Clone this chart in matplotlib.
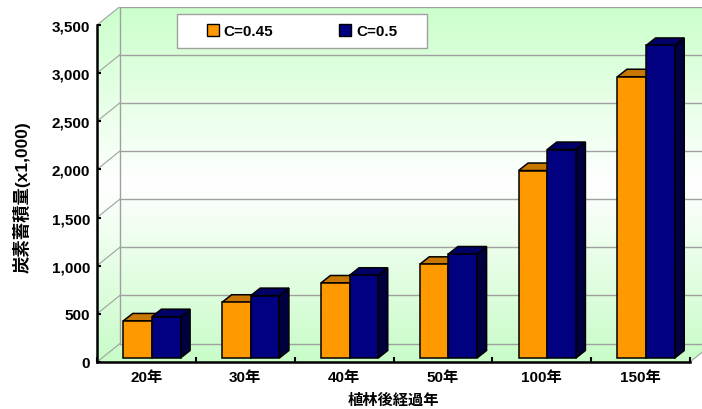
import numpy as np
import matplotlib
matplotlib.use("Agg")
import matplotlib.pyplot as plt
from matplotlib.patches import Polygon, Rectangle, Patch
from matplotlib.colors import LinearSegmentedColormap
from matplotlib.ticker import StrMethodFormatter

plt.rcParams['font.family'] = ['Liberation Sans', 'Noto Sans CJK JP']
plt.rcParams['font.weight'] = 'bold'

# データ
categories = ["20年", "30年", "40年", "50年", "100年", "150年"]
series_names = ["C=0.45", "C=0.5"]
c045 = [385, 579, 779, 973, 1947, 2921]
c050 = [429, 648, 859, 1080, 2165, 3246]
yticks = [0, 500, 1000, 1500, 2000, 2500, 3000, 3500]

front_colors = ["#ff9900", "#000080"]
top_colors = ["#c87800", "#000068"]
side_colors = ["#7a4a00", "#000040"]

W, H = 702, 410
fig = plt.figure(figsize=(W / 100, H / 100), dpi=100)

# pixel layout of the front plane and the 3D depth
x_left, x_right = 97, 690
y_bottom, y_top = 363, 26
wall_dx, wall_dy = 23, 18.5
ncat = len(categories)
ymax = yticks[-1]
px_x = ncat / (x_right - x_left)
px_y = ymax / (y_bottom - y_top)
wx, wy = wall_dx * px_x, wall_dy * px_y

ax_w = (x_right - x_left) + wall_dx
ax_h = (y_bottom - y_top) + wall_dy
ax = fig.add_axes([x_left / W, (H - y_bottom) / H, ax_w / W, ax_h / H])
ax.set_xlim(0, ncat + wx)
ax.set_ylim(0, ymax + wy)
ax.patch.set_visible(False)

# 背景（側壁・奥壁・床）のグラデーション
wall = Polygon([(0, 0), (ncat, 0), (ncat + wx, wy), (ncat + wx, ymax + wy),
                (wx, ymax + wy), (0, ymax)], closed=True,
               facecolor="none", edgecolor="none")
ax.add_patch(wall)
cmap = LinearSegmentedColormap.from_list("wall", ["#c8fcc8", "#ffffff", "#cbffcb"])
grad = np.linspace(0, 1, 256).reshape(-1, 1)
im = ax.imshow(grad, cmap=cmap, extent=(0, ncat + wx, 0, ymax + wy),
               origin="lower", aspect="auto", zorder=0)
im.set_clip_path(wall)
ax.set_xlim(0, ncat + wx)
ax.set_ylim(0, ymax + wy)

grid_c = "#a0a0a0"
for v in yticks:
    ax.plot([wx, ncat + wx], [v + wy, v + wy], color=grid_c, lw=1, zorder=1)
    ax.plot([0, wx], [v, v + wy], color=grid_c, lw=0.8, zorder=1)
ax.plot([wx, wx], [wy, ymax + wy], color=grid_c, lw=1, zorder=1)
ax.plot([ncat, ncat + wx], [0, wy], color=grid_c, lw=0.8, zorder=1)

# 3D風の棒
bw = 0.29
bx, by = 5.5 * px_x, 4 * px_y
sx, sy = 9.5 * px_x, 7.5 * px_y
for i in range(ncat):
    for j, vals in enumerate([c045, c050]):
        h = vals[i]
        x0 = i + 0.5 - bw + j * bw + bx
        x1 = x0 + bw
        z = 2 + i * 2 + j
        ax.add_patch(Polygon([(x1, by), (x1 + sx, by + sy), (x1 + sx, by + h + sy), (x1, by + h)],
                             closed=True, facecolor=side_colors[j], edgecolor="black",
                             lw=1.1, zorder=z))
        ax.add_patch(Polygon([(x0, by + h), (x1, by + h), (x1 + sx, by + h + sy), (x0 + sx, by + h + sy)],
                             closed=True, facecolor=top_colors[j], edgecolor="black",
                             lw=1.1, zorder=z))
        ax.bar(x0, h, width=bw, bottom=by, align="edge", color=front_colors[j],
               edgecolor="black", lw=1.1, zorder=z + 0.5)

# 軸
for s in ["top", "right"]:
    ax.spines[s].set_visible(False)
ax.spines["left"].set_bounds(0, ymax)
ax.spines["bottom"].set_bounds(0, ncat)
ax.spines["left"].set_linewidth(1.8)
ax.spines["bottom"].set_linewidth(1.8)
ax.spines["left"].set_zorder(30)
ax.spines["bottom"].set_zorder(30)

ax.set_yticks(yticks)
ax.yaxis.set_major_formatter(StrMethodFormatter("{x:,.0f}"))
ax.tick_params(axis="y", direction="in", length=3, width=1.5, pad=5, labelsize=11)

ax.set_xticks(np.arange(ncat) + 0.5)
ax.set_xticklabels(categories)
ax.set_xticks(np.arange(ncat + 1), minor=True)
ax.tick_params(axis="x", which="major", length=0, pad=6, labelsize=11)
ax.tick_params(axis="x", which="minor", direction="in", length=3.5, width=1.5)

ax.set_ylabel("炭素蓄積量(x1,000)", fontsize=12.5, fontweight="bold")
ax.yaxis.set_label_coords((31 - x_left) / ax_w, (y_bottom - 197) / ax_h)
ax.set_xlabel("植林後経過年", fontsize=11, fontweight="bold")
ax.xaxis.set_label_coords((393 - x_left) / ax_w, (y_bottom - 394) / ax_h)

# 凡例
fig.add_artist(Rectangle((177 / W, 1 - 49 / H), 250 / W, 34 / H, transform=fig.transFigure,
                         facecolor="white", edgecolor="#a0a0a0", lw=1, zorder=4))
handles = [Patch(facecolor=front_colors[k], edgecolor="black", lw=1) for k in range(2)]
fig.legend(handles, series_names, loc="center", bbox_to_anchor=(302 / W, 1 - 32 / H),
           ncol=2, frameon=False, fontsize=11, handlelength=0.8, handleheight=0.8,
           handletextpad=0.3, columnspacing=4.3).set_zorder(6)

fig.savefig("out.png", dpi=100, facecolor="white")
